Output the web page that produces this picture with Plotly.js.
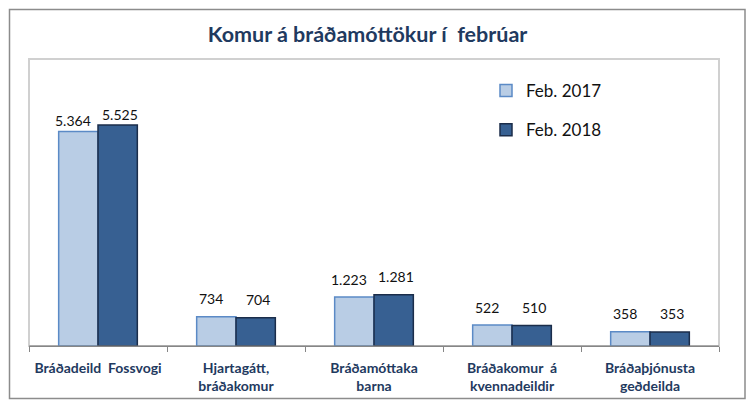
<!DOCTYPE html>
<html>
<head>
<meta charset="utf-8">
<script src="https://cdn.plot.ly/plotly-3.0.1.min.js"></script>
<style>html,body{margin:0;padding:0;background:#fff;}#chart{width:750px;height:401px;}</style>
</head>
<body>
<div id="chart"></div>
<script>
const categories = ["Bráðadeild Fossvogi", "Hjartagátt, bráðakomur", "Bráðamóttaka barna", "Bráðakomur á kvennadeildir", "Bráðaþjónusta geðdeilda"];
const tickLabels = ["Bráðadeild  Fossvogi", "Hjartagátt,<br>bráðakomur", "Bráðamóttaka<br>barna", "Bráðakomur  á<br>kvennadeildir", "Bráðaþjónusta<br>geðdeilda"];
const seriesNames = ["Feb. 2017", "Feb. 2018"];
const feb2017 = [5364, 734, 1223, 522, 358];
const feb2018 = [5525, 704, 1281, 510, 353];

const FONT = "Lato, 'Open Sans', sans-serif";
const L = 29, R = 31, T = 59, B = 55, W = 750, H = 401;
const pw = W - L - R, ph = H - T - B;
const px = v => (v - L) / pw;
const py = v => (H - B - v) / ph;

const BARGAP = 0.43;
const catW = pw / categories.length;
const barW = catW * (1 - BARGAP) / 2;
const labelGap = [11, 18, 18, 18, 18];   // label distance above bar top (px)
const labelXOff = [-5, 2];               // label nudge relative to bar centre (px)
const fmt = v => v.toLocaleString("de-DE");

const traces = [
  {
    type: "bar", name: seriesNames[0], x: categories, y: feb2017,
    legendgroup: "a",
    marker: {color: "#b9cde5", line: {color: "#5b8ac6", width: 1.5}},
    hoverinfo: "skip"
  },
  {
    type: "bar", name: seriesNames[1], x: categories, y: feb2018,
    legendgroup: "b",
    marker: {color: "#376092", line: {color: "#1b2d4a", width: 1.5}},
    hoverinfo: "skip"
  }
];

const annotations = [];
[feb2017, feb2018].forEach((vals, s) => {
  vals.forEach((v, i) => {
    annotations.push({
      xref: "x", yref: "y", x: categories[i], y: v,
      text: fmt(v), showarrow: false,
      xanchor: "center", yanchor: "middle",
      xshift: (s === 0 ? -barW / 2 : barW / 2) + labelXOff[s],
      yshift: labelGap[i],
      font: {family: FONT, size: 14, color: "#111"}
    });
  });
});

const layout = {
  width: W, height: H,
  margin: {l: L, r: R, t: T, b: B, pad: 0},
  paper_bgcolor: "#ffffff", plot_bgcolor: "#ffffff",
  separators: ",.",
  barmode: "group", bargap: BARGAP, bargroupgap: 0,
  title: {
    text: "Komur á bráðamóttökur í  febrúar",
    font: {family: FONT, size: 21.5, color: "#1f3a60", weight: "bold"},
    x: 368 / W, xanchor: "center", xref: "paper",
    y: 1 - 34 / H, yanchor: "middle", yref: "container"
  },
  showlegend: true,
  legend: {
    x: px(486), xanchor: "left", y: py(73), yanchor: "top",
    font: {family: FONT, size: 17, color: "#111"},
    traceorder: "grouped", tracegroupgap: 14,
    bgcolor: "rgba(0,0,0,0)", itemwidth: 30
  },
  xaxis: {
    type: "category",
    tickmode: "array", tickvals: categories, ticktext: tickLabels,
    tickfont: {family: FONT, size: 14, color: "#1f3a60", weight: "bold"},
    ticklabelstandoff: 9,
    showline: true, linecolor: "#868686", linewidth: 1,
    ticks: "outside", tickson: "boundaries", ticklen: 5, tickcolor: "#868686",
    showgrid: false, zeroline: false, fixedrange: true
  },
  yaxis: {
    range: [0, 7175], visible: false, showgrid: false, zeroline: false, fixedrange: true
  },
  annotations: annotations,
  shapes: [
    {type: "rect", xref: "paper", yref: "paper", x0: 0, x1: 1, y0: 0, y1: 1,
     line: {color: "#d0d0d0", width: 2}, layer: "below"},
    {type: "line", xref: "paper", yref: "paper", x0: 0, x1: 1, y0: 0, y1: 0,
     line: {color: "#868686", width: 1}},
    {type: "rect", xref: "paper", yref: "paper",
     x0: px(9.5), x1: px(745), y0: py(9.5), y1: py(398.5),
     line: {color: "#8c8c8c", width: 1.5}}
  ]
};

Plotly.newPlot("chart", traces, layout, {displayModeBar: false, staticPlot: true});
</script>
</body>
</html>
